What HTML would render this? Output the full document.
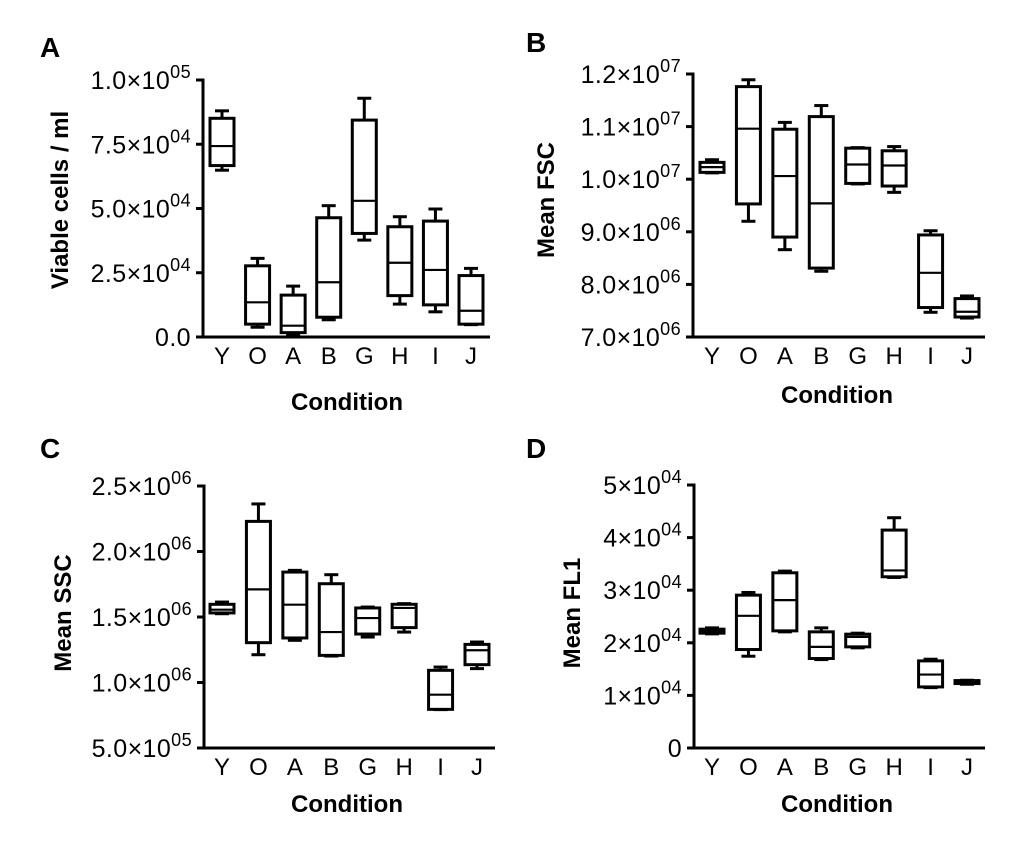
<!DOCTYPE html>
<html><head><meta charset="utf-8">
<style>
html,body{margin:0;padding:0;background:#fff;}
svg{display:block;font-family:"Liberation Sans",Arial,sans-serif;}
</style></head>
<body>
<svg id="fig" width="1020" height="862" viewBox="0 0 1020 862" xmlns="http://www.w3.org/2000/svg"></svg>
<script>
const categories = ["Y","O","A","B","G","H","I","J"];
// Panel A: viable cells/ml  [min, q1, median, q3, max]
const viableMin = [64900,3800,1000,6700,37700,12800,9800,4800];
const viableQ1  = [66700,5000,1700,7700,40300,16100,12500,5000];
const viableMed = [74300,13500,4400,21300,53000,28900,26100,10200];
const viableQ3  = [85100,27700,16300,46400,84400,42900,45100,23900];
const viableMax = [88000,30600,19800,51100,92900,46800,49800,26700];
const viableTicks = [0,25000,50000,75000,100000];
const viableTickLabels = [["0.0",""],["2.5×10","04"],["5.0×10","04"],["7.5×10","04"],["1.0×10","05"]];
// Panel B: mean FSC
const fscMin = [10.12e6,9.20e6,8.66e6,8.25e6,9.91e6,9.75e6,7.47e6,7.36e6];
const fscQ1  = [10.13e6,9.53e6,8.90e6,8.31e6,9.92e6,9.87e6,7.56e6,7.38e6];
const fscMed = [10.23e6,10.96e6,10.06e6,9.54e6,10.28e6,10.26e6,8.22e6,7.48e6];
const fscQ3  = [10.32e6,11.76e6,10.95e6,11.19e6,10.59e6,10.54e6,8.94e6,7.73e6];
const fscMax = [10.37e6,11.89e6,11.08e6,11.40e6,10.60e6,10.62e6,9.02e6,7.78e6];
const fscTicks = [7e6,8e6,9e6,10e6,11e6,12e6];
const fscTickLabels = [["7.0×10","06"],["8.0×10","06"],["9.0×10","06"],["1.0×10","07"],["1.1×10","07"],["1.2×10","07"]];
// Panel C: mean SSC
const sscMin = [1.525e6,1.212e6,1.322e6,1.202e6,1.347e6,1.385e6,0.793e6,1.106e6];
const sscQ1  = [1.531e6,1.304e6,1.340e6,1.207e6,1.370e6,1.419e6,0.795e6,1.136e6];
const sscMed = [1.556e6,1.711e6,1.594e6,1.385e6,1.492e6,1.569e6,0.907e6,1.246e6];
const sscQ3  = [1.597e6,2.230e6,1.843e6,1.754e6,1.569e6,1.597e6,1.093e6,1.291e6];
const sscMax = [1.614e6,2.363e6,1.856e6,1.823e6,1.576e6,1.602e6,1.118e6,1.309e6];
const sscTicks = [0.5e6,1.0e6,1.5e6,2.0e6,2.5e6];
const sscTickLabels = [["5.0×10","05"],["1.0×10","06"],["1.5×10","06"],["2.0×10","06"],["2.5×10","06"]];
// Panel D: mean FL1
const fl1Min = [21700,17450,22080,16810,19040,32420,11480,12120];
const fl1Q1  = [21830,18720,22270,17010,19230,32550,11610,12250];
const fl1Med = [22210,25130,28110,19230,21130,33760,13960,12560];
const fl1Q3  = [22590,29060,33310,22080,21640,41430,16560,12820];
const fl1Max = [22840,29570,33630,22840,21830,43780,16880,12880];
const fl1Ticks = [0,10000,20000,30000,40000,50000];
const fl1TickLabels = [["0",""],["1×10","04"],["2×10","04"],["3×10","04"],["4×10","04"],["5×10","04"]];

const NS = "http://www.w3.org/2000/svg";
const svg = document.getElementById("fig");
function mk(tag, attrs, parent){
  const e = document.createElementNS(NS, tag);
  for (const k in attrs) e.setAttribute(k, attrs[k]);
  (parent||svg).appendChild(e);
  return e;
}

function panel(cfg){
  const g = mk("g", {});
  
  
  const yScale = v => cfg.y0 - (v - cfg.vmin) / (cfg.vmax - cfg.vmin) * (cfg.y0 - cfg.y1);
  const xScale = i => cfg.cx0 + i * (cfg.cx1 - cfg.cx0) / (categories.length - 1);
  const L = mk("text", {x: cfg.lx, y: cfg.ly, "font-size": 28, "font-weight": "bold"}, g);
  L.textContent = cfg.letter;
  
  
  const ya = mk("line", {x1: cfg.ax, y1: cfg.y1 - 1.5, x2: cfg.ax, y2: cfg.y0 + 1.5, stroke: "#000", "stroke-width": 3}, g);
  
  
  const xa = mk("line", {x1: cfg.ax - 1.5, y1: cfg.y0, x2: cfg.xend, y2: cfg.y0, stroke: "#000", "stroke-width": 3}, g);
  
  
  cfg.ticks.forEach((t, i) => {
    const y = yScale(t);
    const tk = mk("line", {x1: cfg.ax - 7, y1: y, x2: cfg.ax, y2: y, stroke: "#000", "stroke-width": 3}, g);
    
    
    const lab = cfg.tickLabels[i];
    const tx = mk("text", {x: cfg.ax - 12, y: y + 9, "font-size": 25, "text-anchor": "end", "letter-spacing": 0.4}, g);
    
    
    const s1 = mk("tspan", {}, tx); s1.textContent = lab[0];
    if (lab[1]) { const s2 = mk("tspan", {"font-size": 18, dy: -11}, tx); s2.textContent = lab[1]; }
  });
  categories.forEach((c, i) => {
    const tx = mk("text", {x: xScale(i), y: cfg.y0 + 27, "font-size": 24, "text-anchor": "middle"}, g);
    tx.textContent = c;
    
    
  });
  const xt = mk("text", {x: cfg.xtx, y: cfg.xty, "font-size": 24, "font-weight": "bold", "text-anchor": "middle"}, g);
  xt.textContent = "Condition";
  
  
  const yt = mk("text", {x: 0, y: 0, "font-size": 24, "font-weight": "bold", "text-anchor": "middle", transform: `translate(${cfg.ytx},${cfg.yty}) rotate(-90)`}, g);
  yt.textContent = cfg.ytitle;
  
  
  categories.forEach((c, i) => {
    const cx = xScale(i), hw = 12, cw = 7;
    const bg = mk("g", {stroke: "#000", "stroke-width": 3, fill: "none"}, g);
    
    
    const ymin = yScale(cfg.mn[i]), yq1 = yScale(cfg.q1[i]), ymed = yScale(cfg.md[i]), yq3 = yScale(cfg.q3[i]), ymax = yScale(cfg.mx[i]);
    mk("line", {x1: cx, y1: ymax, x2: cx, y2: yq3}, bg);
    mk("line", {x1: cx, y1: yq1, x2: cx, y2: ymin}, bg);
    mk("line", {x1: cx - cw, y1: ymax, x2: cx + cw, y2: ymax}, bg);
    mk("line", {x1: cx - cw, y1: ymin, x2: cx + cw, y2: ymin}, bg);
    mk("rect", {x: cx - hw, y: yq3, width: 2 * hw, height: Math.max(yq1 - yq3, 0.5)}, bg);
    mk("line", {x1: cx - hw, y1: ymed, x2: cx + hw, y2: ymed, "stroke-width": 2.2}, bg);
  });
}

panel({name: "panel-a-viable-cells", letter: "A", lx: 40, ly: 57, ax: 203, y0: 337, y1: 80, vmin: 0, vmax: 100000,
  xend: 490, cx0: 222, cx1: 471, ticks: viableTicks, tickLabels: viableTickLabels,
  mn: viableMin, q1: viableQ1, md: viableMed, q3: viableQ3, mx: viableMax,
  xtx: 347, xty: 410, ytitle: "Viable cells / ml", ytx: 68, yty: 200});
panel({name: "panel-b-mean-fsc", letter: "B", lx: 526, ly: 52, ax: 693, y0: 337, y1: 74, vmin: 7e6, vmax: 12e6,
  xend: 985, cx0: 712, cx1: 967, ticks: fscTicks, tickLabels: fscTickLabels,
  mn: fscMin, q1: fscQ1, md: fscMed, q3: fscQ3, mx: fscMax,
  xtx: 837, xty: 403, ytitle: "Mean FSC", ytx: 554, yty: 200});
panel({name: "panel-c-mean-ssc", letter: "C", lx: 40, ly: 458, ax: 204, y0: 748, y1: 486, vmin: 0.5e6, vmax: 2.5e6,
  xend: 495, cx0: 222, cx1: 477, ticks: sscTicks, tickLabels: sscTickLabels,
  mn: sscMin, q1: sscQ1, md: sscMed, q3: sscQ3, mx: sscMax,
  xtx: 347, xty: 812, ytitle: "Mean SSC", ytx: 71, yty: 613});
panel({name: "panel-d-mean-fl1", letter: "D", lx: 526, ly: 458, ax: 694, y0: 748, y1: 485, vmin: 0, vmax: 50000,
  xend: 985, cx0: 712, cx1: 967, ticks: fl1Ticks, tickLabels: fl1TickLabels,
  mn: fl1Min, q1: fl1Q1, md: fl1Med, q3: fl1Q3, mx: fl1Max,
  xtx: 837, xty: 812, ytitle: "Mean FL1", ytx: 580, yty: 613});
</script>
</body></html>
